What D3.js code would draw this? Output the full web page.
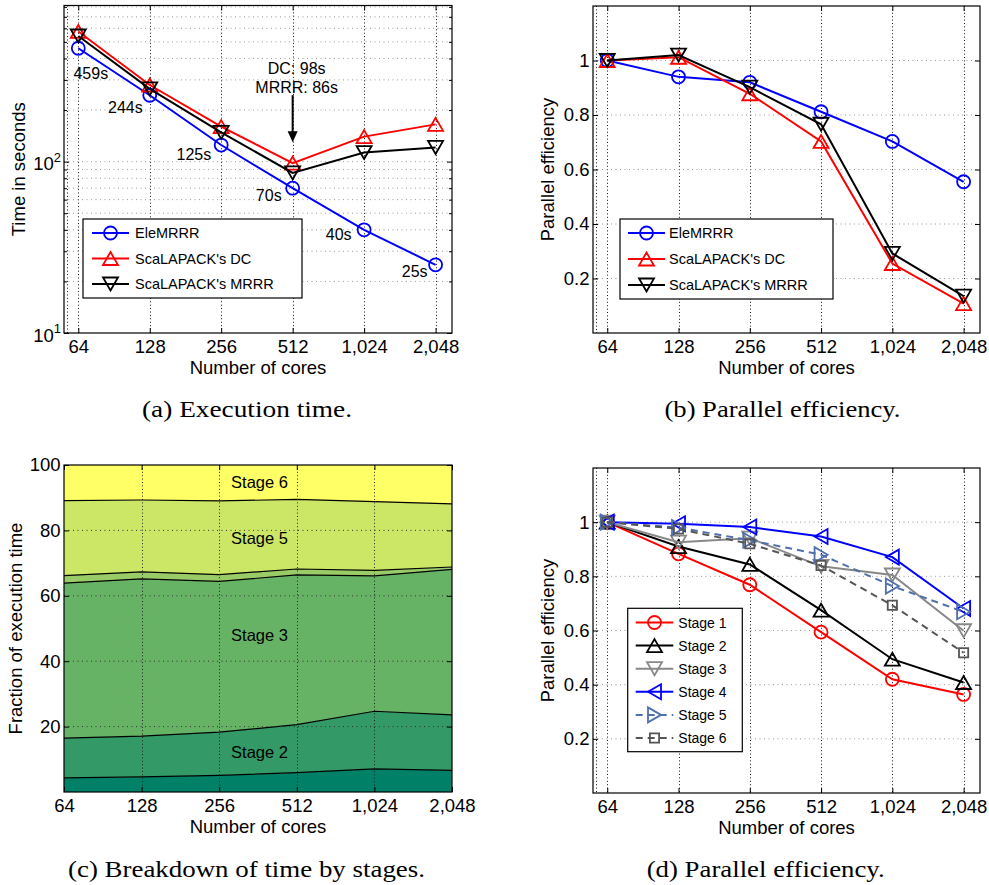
<!DOCTYPE html>
<html><head><meta charset="utf-8">
<script src="https://cdn.jsdelivr.net/npm/d3@7"></script>
<style>
body{margin:0;background:#fff}
svg{display:block}
text{font-family:"Liberation Sans",Arial,Helvetica,sans-serif;fill:#000}
</style>
</head><body>
<script>
// ---------------- DATA ----------------
const cores = ["64", "128", "256", "512", "1,024", "2,048"];

// (a) Execution time (seconds)
const timeEleMRRR = [459, 244, 125, 70, 40, 25];
const timeDC      = [575, 280, 160, 98, 140, 165];
const timeMRRR    = [541, 266, 148, 86, 113, 121];
const timeLabels  = ["459s", "244s", "125s", "70s", "40s", "25s"];
const annotLines  = ["DC: 98s", "MRRR: 86s"];
const seriesNamesA = ["EleMRRR", "ScaLAPACK's DC", "ScaLAPACK's MRRR"];

// (b) Parallel efficiency
const effEleMRRR = [1.0, 0.94, 0.92, 0.812, 0.703, 0.555];
const effDC      = [1.0, 1.012, 0.878, 0.703, 0.255, 0.108];
const effMRRR    = [1.0, 1.02, 0.902, 0.766, 0.292, 0.135];

// (c) Fraction of execution time by stage (percent)
const stageNames = ["Stage 1", "Stage 2", "Stage 3", "Stage 4", "Stage 5", "Stage 6"];
const fracStage1 = [4.3, 4.6, 5.1, 5.9, 7.1, 6.6];
const fracStage2 = [12.2, 12.5, 13.2, 14.7, 17.6, 17.0];
const fracStage3 = [47.4, 48.1, 46.1, 45.8, 41.4, 44.5];
const fracStage4 = [2.3, 2.1, 2.1, 1.8, 1.7, 0.7];
const fracStage5 = [22.9, 22.0, 22.5, 21.3, 21.0, 19.3];
const fracStage6 = [10.9, 10.7, 11.0, 10.5, 11.2, 11.9];
const stageLabelNames  = ["Stage 6", "Stage 5", "Stage 3", "Stage 2"];
const stageLabelValues = [94.7, 77.7, 48.0, 12.2];

// (d) Parallel efficiency by stage
const effStage1 = [1.0, 0.883, 0.769, 0.594, 0.42, 0.364];
const effStage2 = [1.0, 0.91, 0.844, 0.675, 0.494, 0.408];
const effStage3 = [1.0, 0.926, 0.941, 0.837, 0.805, 0.599];
const effStage4 = [1.0, 0.994, 0.982, 0.947, 0.871, 0.681];
const effStage5 = [1.0, 0.98, 0.933, 0.88, 0.764, 0.669];
const effStage6 = [1.0, 0.975, 0.92, 0.84, 0.693, 0.518];

const captions = ["(a) Execution time.", "(b) Parallel efficiency.",
                  "(c) Breakdown of time by stages.", "(d) Parallel efficiency."];

// ---------------- STYLE ----------------
const FS = 18.5;
const summer = ["#008066", "#339966", "#66b366", "#99cc66", "#cce666", "#ffff66"];

const svg = d3.select("body").append("svg").attr("width", 989).attr("height", 885);

function markerPath(type) {
  const r = 6.5, w = 7.5, s = 4.6;
  switch (type) {
    case "^": return `M0,${-r}L${w},${r}L${-w},${r}Z`;
    case "v": return `M0,${r}L${w},${-r}L${-w},${-r}Z`;
    case "<": return `M${-r},0L${r},${-w}L${r},${w}Z`;
    case ">": return `M${r},0L${-r},${-w}L${-r},${w}Z`;
    case "s": return `M${-s},${-s}H${s}V${s}H${-s}Z`;
  }
  return null;
}
function drawMarker(g, type, cx, cy, color) {
  if (type === "o") {
    g.append("circle").attr("cx", cx).attr("cy", cy).attr("r", 6.5)
      .attr("fill", "none").attr("stroke", color).attr("stroke-width", 1.8);
  } else {
    g.append("path").attr("d", markerPath(type)).attr("transform", `translate(${cx},${cy})`)
      .attr("fill", "none").attr("stroke", color).attr("stroke-width", 1.8).attr("stroke-linejoin", "miter");
  }
}

function gridLines(g, x, y, box, xGrid, yGrid, vColor, hColor) {
  const gg = g.append("g");
  xGrid.forEach(v => gg.append("line")
    .attr("x1", Math.round(x(v)) + 0.5).attr("x2", Math.round(x(v)) + 0.5)
    .attr("y1", box.T).attr("y2", box.B)
    .attr("stroke", vColor).attr("stroke-width", 1).attr("stroke-dasharray", "1,2.4"));
  yGrid.forEach(v => gg.append("line")
    .attr("y1", y(v)).attr("y2", y(v))
    .attr("x1", box.L).attr("x2", box.R)
    .attr("stroke", hColor).attr("stroke-width", 1).attr("stroke-dasharray", "1,3.5"));
}

function styleAxis(sel) {
  sel.select(".domain").remove();
  sel.selectAll(".tick line").attr("stroke", "#000").attr("stroke-width", 1);
  sel.selectAll("text").attr("font-size", FS).attr("font-family", '"Liberation Sans",Arial,sans-serif').attr("fill", "#000");
}

function axesFrame(g, x, y, box, o) {
  // bottom
  g.append("g").attr("transform", `translate(0,${box.B})`)
    .call(d3.axisBottom(x).tickValues(o.xTicks).tickFormat(i => cores[i]).tickSize(-5).tickPadding(7))
    .call(styleAxis);
  // top (mirrored ticks)
  g.append("g").attr("transform", `translate(0,${box.T})`)
    .call(d3.axisTop(x).tickValues(o.xTicks).tickFormat("").tickSize(-5))
    .call(styleAxis);
  // left
  const la = d3.axisLeft(y).tickValues(o.yTicks).tickSize(-5).tickPadding(3.5);
  if (o.yFmt) la.tickFormat(o.yFmt);
  const lg = g.append("g").attr("transform", `translate(${box.L},0)`).call(la).call(styleAxis);
  // right (mirrored)
  g.append("g").attr("transform", `translate(${box.R},0)`)
    .call(d3.axisRight(y).tickValues(o.yTicks).tickFormat("").tickSize(-5))
    .call(styleAxis);
  if (o.yMinor) {
    g.append("g").attr("transform", `translate(${box.L},0)`)
      .call(d3.axisLeft(y).tickValues(o.yMinor).tickFormat("").tickSize(-3)).call(styleAxis);
    g.append("g").attr("transform", `translate(${box.R},0)`)
      .call(d3.axisRight(y).tickValues(o.yMinor).tickFormat("").tickSize(-3)).call(styleAxis);
  }
  // box
  g.append("rect").attr("x", box.L).attr("y", box.T)
    .attr("width", box.R - box.L).attr("height", box.B - box.T)
    .attr("fill", "none").attr("stroke", "#000").attr("stroke-width", 1.2);
  // labels
  g.append("text").attr("x", (box.L + box.R) / 2).attr("y", box.B + 41)
    .attr("text-anchor", "middle").attr("font-size", FS).text("Number of cores");
  g.append("text").attr("transform", `translate(${o.yLabelX},${(box.T + box.B) / 2}) rotate(-90)`)
    .attr("text-anchor", "middle").attr("font-size", FS).text(o.yLabel);
  return lg;
}

function drawSeries(g, x, y, vals, color, marker, dash) {
  const line = d3.line().x((d, i) => x(i)).y(d => y(d));
  g.append("path").datum(vals).attr("d", line).attr("fill", "none")
    .attr("stroke", color).attr("stroke-width", 2).attr("stroke-dasharray", dash || null);
  vals.forEach((v, i) => drawMarker(g, marker, x(i), y(v), color));
}

function legend(g, box, items, rowStep, lineX1, lineX2, textX, fs) {
  g.append("rect").attr("x", box.L).attr("y", box.T).attr("width", box.R - box.L)
    .attr("height", box.B - box.T).attr("fill", "#fff").attr("stroke", "#000").attr("stroke-width", 1.2);
  items.forEach((it, i) => {
    const cy = box.T + box.first + i * rowStep;
    g.append("line").attr("x1", lineX1).attr("x2", lineX2).attr("y1", cy).attr("y2", cy)
      .attr("stroke", it.color).attr("stroke-width", 2).attr("stroke-dasharray", it.dash || null);
    drawMarker(g, it.marker, (lineX1 + lineX2) / 2, cy, it.color);
    g.append("text").attr("x", textX).attr("y", cy + fs * 0.36).attr("font-size", fs).text(it.name);
  });
}

const idx = d3.range(cores.length);

// ================= PANEL (a) =================
{
  const box = {L: 64, R: 452, T: 5.5, B: 333};
  const x = d3.scaleLinear().domain([-0.2, 5.23]).range([box.L, box.R]);
  const y = d3.scaleLog().domain([10, 815]).range([box.B, box.T]);
  const g = svg.append("g");
  const minor = [20, 30, 40, 50, 60, 70, 80, 90, 200, 300, 400, 500, 600, 700, 800];
  gridLines(g, x, y, box, [-0.16, ...idx], [], "#111", "#999");
  gridLines(g, x, y, box, [], [...minor, 100], "#111", "#9a9a9a");
  const lg = axesFrame(g, x, y, box, {
    xTicks: idx, yTicks: [10, 100], yMinor: minor, yFmt: d => String(d),
    yLabel: "Time in seconds", yLabelX: 25
  });
  // superscript log labels
  lg.selectAll(".tick text").each(function (d) {
    const t = d3.select(this);
    const e = Math.round(Math.log10(d));
    t.text("").attr("dy", null).attr("y", 8).attr("x", -3);
    t.append("tspan").text("10");
    t.append("tspan").attr("dy", -8.5).attr("font-size", 13).text(e);
  });
  const colors = ["#0000ff", "#ff0000", "#000000"];
  const markers = ["o", "^", "v"];
  [timeEleMRRR, timeDC, timeMRRR].forEach((s, k) => drawSeries(g, x, y, s, colors[k], markers[k]));

  // data labels for EleMRRR
  const lblStyle = [
    {a: "middle", dx: 12.5, dy: 31}, {a: "end", dx: -7, dy: 18}, {a: "end", dx: -10, dy: 15},
    {a: "end", dx: -11, dy: 13}, {a: "end", dx: -12.5, dy: 10}, {a: "end", dx: -8, dy: 12.5}
  ];
  timeLabels.forEach((t, i) => g.append("text")
    .attr("x", x(i) + lblStyle[i].dx).attr("y", y(timeEleMRRR[i]) + lblStyle[i].dy)
    .attr("text-anchor", lblStyle[i].a).attr("font-size", 16).text(t));

  // annotation + arrow pointing at 512 cores
  const ax = x(3), py = y(timeDC[3]);
  annotLines.forEach((t, i) => g.append("text").attr("x", ax + 4).attr("y", py - 89 + i * 19.3)
    .attr("text-anchor", "middle").attr("font-size", 16).text(t));
  const tip = py - 21, tail = py - 68;
  g.append("line").attr("x1", ax).attr("x2", ax).attr("y1", tail).attr("y2", tip - 8)
    .attr("stroke", "#000").attr("stroke-width", 2);
  g.append("path").attr("d", `M${ax},${tip}L${ax - 5},${tip - 11}L${ax + 5},${tip - 11}Z`).attr("fill", "#000");

  legend(g, {L: 83, R: 302, T: 219, B: 298, first: 14}, [
    {name: seriesNamesA[0], color: colors[0], marker: markers[0]},
    {name: seriesNamesA[1], color: colors[1], marker: markers[1]},
    {name: seriesNamesA[2], color: colors[2], marker: markers[2]}
  ], 25.5, 92, 129, 135, 14.5);
}

// ================= PANEL (b) =================
{
  const box = {L: 593, R: 980, T: 6, B: 333};
  const x = d3.scaleLinear().domain([-0.2, 5.23]).range([box.L, box.R]);
  const y = d3.scaleLinear().domain([0, 1.2]).range([box.B, box.T]);
  const g = svg.append("g");
  gridLines(g, x, y, box, [-0.16, ...idx], [0.2, 0.4, 0.6, 0.8, 1.0], "#111", "#999");
  axesFrame(g, x, y, box, {
    xTicks: idx, yTicks: [0.2, 0.4, 0.6, 0.8, 1.0], yFmt: d => d === 1 ? "1" : d3.format(".1f")(d),
    yLabel: "Parallel efficiency", yLabelX: 554
  });
  const colors = ["#0000ff", "#ff0000", "#000000"];
  const markers = ["o", "^", "v"];
  [effEleMRRR, effDC, effMRRR].forEach((s, k) => drawSeries(g, x, y, s, colors[k], markers[k]));
  legend(g, {L: 620, R: 833, T: 219, B: 299, first: 14}, [
    {name: seriesNamesA[0], color: colors[0], marker: markers[0]},
    {name: seriesNamesA[1], color: colors[1], marker: markers[1]},
    {name: seriesNamesA[2], color: colors[2], marker: markers[2]}
  ], 26, 628, 665, 669, 14.5);
}

// ================= PANEL (c) =================
{
  const box = {L: 64, R: 452, T: 465, B: 792};
  const x = d3.scaleLinear().domain([0, 5]).range([box.L, box.R]);
  const y = d3.scaleLinear().domain([0, 100]).range([box.B, box.T]);
  const g = svg.append("g");
  const fracs = [fracStage1, fracStage2, fracStage3, fracStage4, fracStage5, fracStage6];
  const table = idx.map(i => {
    const row = {i};
    stageNames.forEach((n, k) => row[n] = fracs[k][i]);
    return row;
  });
  const series = d3.stack().keys(stageNames)(table);
  const area = d3.area().x(d => x(d.data.i)).y0(d => y(d[0])).y1(d => y(d[1]));
  const topLine = d3.line().x(d => x(d.data.i)).y(d => y(d[1]));
  series.forEach((s, k) => g.append("path").datum(s).attr("d", area).attr("fill", summer[k]).attr("stroke", "none"));
  series.forEach((s, k) => { if (k < series.length - 1) g.append("path").datum(s).attr("d", topLine)
    .attr("fill", "none").attr("stroke", "#000").attr("stroke-width", 1.2); });
  gridLines(g, x, y, box, [1, 2, 3, 4], [20, 40, 60, 80], "#222", "#333");
  axesFrame(g, x, y, box, {
    xTicks: idx, yTicks: [20, 40, 60, 80, 100], yFmt: d3.format("d"),
    yLabel: "Fraction of execution time", yLabelX: 21.5
  });
  stageLabelNames.forEach((n, k) => g.append("text").attr("x", x(2.52)).attr("y", y(stageLabelValues[k]) + 5.9)
    .attr("text-anchor", "middle").attr("font-size", 16.5).text(n));
}

// ================= PANEL (d) =================
{
  const box = {L: 593, R: 980, T: 468, B: 793};
  const x = d3.scaleLinear().domain([-0.2, 5.23]).range([box.L, box.R]);
  const y = d3.scaleLinear().domain([0, 1.2]).range([box.B, box.T]);
  const g = svg.append("g");
  gridLines(g, x, y, box, [-0.16, ...idx], [0.2, 0.4, 0.6, 0.8, 1.0], "#111", "#999");
  axesFrame(g, x, y, box, {
    xTicks: idx, yTicks: [0.2, 0.4, 0.6, 0.8, 1.0], yFmt: d => d === 1 ? "1" : d3.format(".1f")(d),
    yLabel: "Parallel efficiency", yLabelX: 554
  });
  const effs = [effStage1, effStage2, effStage3, effStage4, effStage5, effStage6];
  const colors = ["#ff0000", "#000000", "#888888", "#0000ff", "#4f6fad", "#555555"];
  const markers = ["o", "^", "v", "<", ">", "s"];
  const dashes = [null, null, null, null, "7,5", "7,5"];
  effs.forEach((s, k) => drawSeries(g, x, y, s, colors[k], markers[k], dashes[k]));
  legend(g, {L: 627.7, R: 742.3, T: 608.3, B: 751.7, first: 14.2}, stageNames.map((n, k) => (
    {name: n, color: colors[k], marker: markers[k], dash: dashes[k]})), 23.1, 635.7, 673.3, 678.3, 14);
}

// ================= CAPTIONS =================
const capPos = [[247, 416.5, 210], [782.5, 416.5, 236], [246.5, 876.5, 357], [765.7, 876.5, 238]];
captions.forEach((c, i) => svg.append("text")
  .attr("x", capPos[i][0] - capPos[i][2] / 2).attr("y", capPos[i][1])
  .attr("textLength", capPos[i][2]).attr("lengthAdjust", "spacingAndGlyphs")
  .attr("font-family", '"Liberation Serif","Times New Roman",serif').attr("font-size", 23)
  .style("font-family", '"Liberation Serif","Times New Roman",serif')
  .text(c));
</script>
</body></html>
